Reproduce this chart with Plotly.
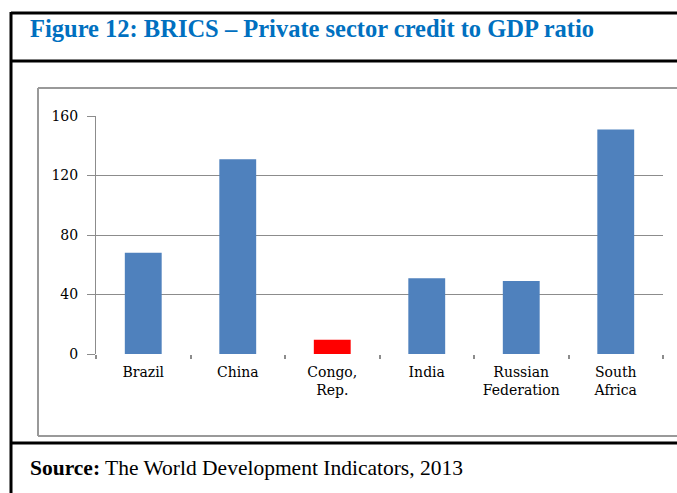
import plotly.graph_objects as go

# Private sector credit to GDP ratio (%), BRICS, 2013
countries = ["Brazil", "China", "Congo,<br>Rep.", "India", "Russian<br>Federation", "South<br>Africa"]
credit_ratio = [68, 131, 9.5, 51, 49, 151]
bar_colors = ["#4F81BD", "#4F81BD", "#FF0000", "#4F81BD", "#4F81BD", "#4F81BD"]
y_ticks = [0, 40, 80, 120, 160]

W, H = 677, 493
L, R, T, B = 96, 663, 116, 354  # plot area in pixels


def px(x):
    return (x - L) / (R - L)


def py(y):
    return (B - y) / (B - T)


fig = go.Figure(
    go.Bar(
        x=countries,
        y=credit_ratio,
        marker=dict(color=bar_colors, line=dict(width=0)),
        width=0.39,
    )
)

grey = "#8c8c8c"
serif = "Liberation Serif, Times New Roman, serif"
axis_font = "DejaVu Serif, serif"

fig.update_layout(
    width=W,
    height=H,
    margin=dict(l=L, r=W - R, t=T, b=H - B),
    paper_bgcolor="white",
    plot_bgcolor="white",
    showlegend=False,
    bargap=0.61,
    xaxis=dict(
        type="category",
        showgrid=False,
        showline=False,
        zeroline=False,
        ticks="outside",
        tickson="boundaries",
        ticklen=4,
        tickwidth=2,
        tickcolor=grey,
        ticklabelstandoff=8,
        tickfont=dict(family=axis_font, size=14, color="black"),
    ),
    yaxis=dict(
        range=[0, 160],
        tickvals=y_ticks,
        showgrid=True,
        gridcolor=grey,
        gridwidth=1,
        showline=True,
        linecolor=grey,
        linewidth=1,
        zeroline=False,
        ticks="outside",
        ticklen=8,
        tickcolor=grey,
        tickwidth=1,
        ticklabelstandoff=6,
        tickfont=dict(family=axis_font, size=14, color="black"),
    ),
)

shapes = []
# outer black frame and dividers
shapes.append(dict(type="line", xref="paper", yref="paper", x0=px(11), x1=px(700), y0=py(13), y1=py(13),
                   line=dict(color="black", width=3)))
shapes.append(dict(type="line", xref="paper", yref="paper", x0=px(11), x1=px(11), y0=py(12), y1=py(500),
                   line=dict(color="black", width=3)))
shapes.append(dict(type="line", xref="paper", yref="paper", x0=px(11), x1=px(700), y0=py(61), y1=py(61),
                   line=dict(color="black", width=3)))
shapes.append(dict(type="line", xref="paper", yref="paper", x0=px(11), x1=px(700), y0=py(443), y1=py(443),
                   line=dict(color="black", width=3)))
# grey chart box
shapes.append(dict(type="line", xref="paper", yref="paper", x0=px(38), x1=px(700), y0=py(88), y1=py(88),
                   line=dict(color="#999999", width=2)))
shapes.append(dict(type="line", xref="paper", yref="paper", x0=px(38), x1=px(38), y0=py(88), y1=py(436),
                   line=dict(color="#999999", width=2)))
shapes.append(dict(type="line", xref="paper", yref="paper", x0=px(38), x1=px(700), y0=py(436), y1=py(436),
                   line=dict(color="#999999", width=2)))
fig.update_layout(shapes=shapes)

fig.add_annotation(
    xref="paper", yref="paper", x=px(28), y=py(29),
    xanchor="left", yanchor="middle", showarrow=False,
    text="<b>Figure 12: BRICS \u2013 Private sector credit to GDP ratio</b>",
    font=dict(family=serif, size=24.5, color="#0070C0"),
)
fig.add_annotation(
    xref="paper", yref="paper", x=px(28), y=py(468),
    xanchor="left", yanchor="middle", showarrow=False,
    text="<b>Source:</b> The World Development Indicators, 2013",
    font=dict(family=serif, size=21.5, color="black"),
)

fig.write_html("out.html")
